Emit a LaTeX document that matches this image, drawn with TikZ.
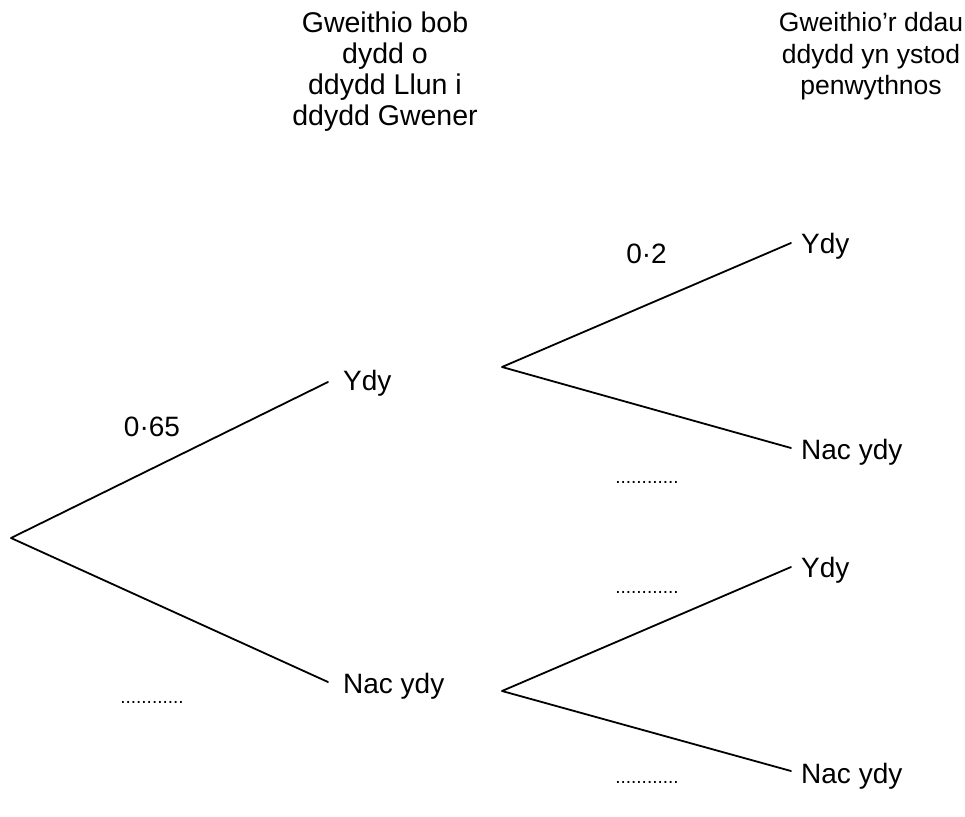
\documentclass[tikz,border=0pt]{standalone}
\usepackage{fontspec}
\setmainfont{Liberation Sans}
\begin{document}
\begin{tikzpicture}[x=1pt,y=-1pt,
  branch/.style={line width=1.8pt,line cap=round,line join=round},
  lbl/.style={anchor=base west,inner sep=0pt,font=\fontsize{28}{30}\selectfont},
  hdr/.style={align=center,anchor=north,inner sep=0pt},
  prob/.style={inner sep=0pt,font=\fontsize{28}{30}\selectfont},
  blank/.style={anchor=base,inner sep=0pt,font=\fontsize{19}{20}\selectfont}]
\useasboundingbox (0,0) rectangle (965,816);
% headers
\node[hdr,font=\fontsize{28.5}{31}\selectfont] (h1) at (385,12) {Gweithio bob\\dydd o\\ddydd Llun i\\ddydd Gwener};
\node[hdr,font=\fontsize{26.5}{31.5}\selectfont] (h2) at (871,12.5) {Gweithio’r ddau\\ddydd yn ystod\\penwythnos};
% first level
\coordinate (root) at (11,538);
\node[lbl] (a1) at (343,390) {Ydy};
\node[lbl] (a2) at (343,693) {Nac ydy};
\coordinate (e1) at (328,382);
\coordinate (e2) at (328,682);
\draw[branch] (e1) -- (root) -- (e2);
\node[prob] (p1) at (152,427) {0·65};
\node[blank] (d1) at (152,703.5) {............};
% second level upper
\coordinate (r1) at (502,367);
\coordinate (f1) at (791,243);
\coordinate (f2) at (791,448);
\node[lbl] (b1) at (801,253) {Ydy};
\node[lbl] (b2) at (801,459) {Nac ydy};
\draw[branch] (f1) -- (r1) -- (f2);
\node[prob] (p2) at (646.5,254) {0·2};
\node[blank] (d2) at (647,483.5) {............};
% second level lower
\coordinate (r2) at (502,691);
\coordinate (f3) at (791,567);
\coordinate (f4) at (791,771);
\node[lbl] (b3) at (801,577) {Ydy};
\node[lbl] (b4) at (801,783) {Nac ydy};
\draw[branch] (f3) -- (r2) -- (f4);
\node[blank] (d3) at (647,593.5) {............};
\node[blank] (d4) at (647,783.5) {............};
\end{tikzpicture}
\end{document}
